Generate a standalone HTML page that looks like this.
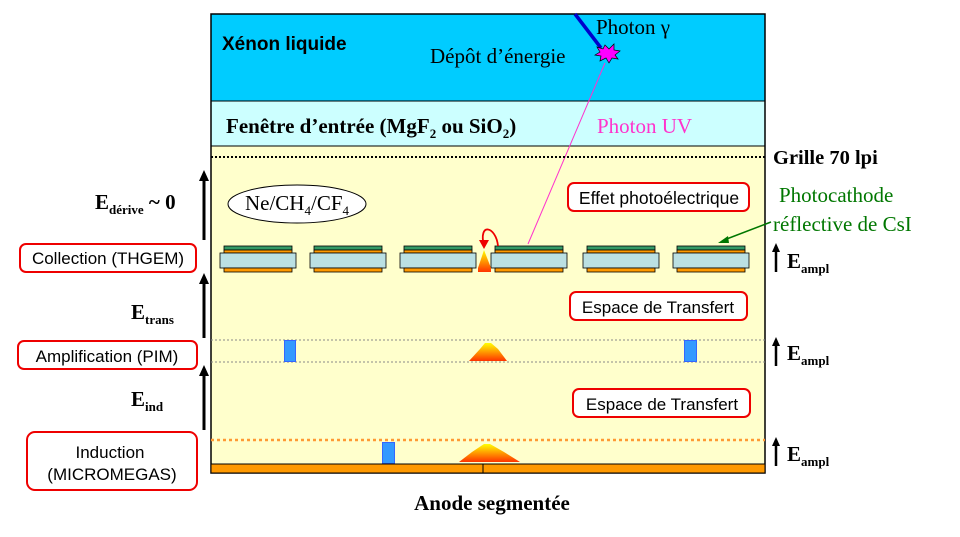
<!DOCTYPE html>
<html><head><meta charset="utf-8"><style>
body{margin:0;background:#fff;}
svg{display:block;}
.s{font-family:"Liberation Serif",serif;}
.a{font-family:"Liberation Sans",sans-serif;}
</style></head><body>
<svg width="960" height="537" viewBox="0 0 960 537" xmlns="http://www.w3.org/2000/svg">
<defs>
<linearGradient id="fl" x1="0" y1="0" x2="0" y2="1"><stop offset="0" stop-color="#ffff00"/><stop offset="1" stop-color="#ff3300"/></linearGradient>
</defs>
<rect x="211" y="146" width="554" height="327" fill="#ffffcc"/>
<rect x="211" y="14" width="554" height="87" fill="#00ccff"/>
<rect x="211" y="101" width="554" height="45" fill="#ccffff" stroke="#000" stroke-width="1"/>
<rect x="211" y="14" width="554" height="459" fill="none" stroke="#000" stroke-width="1.5"/>
<text x="222" y="50" class="a" font-size="19" font-weight="bold">Xénon liquide</text>
<text x="430" y="63" class="s" font-size="21">Dépôt d’énergie</text>
<text x="596" y="34" class="s" font-size="21">Photon γ</text>
<line x1="575" y1="14" x2="601" y2="48" stroke="#0000cc" stroke-width="3.5"/>
<polygon points="605,45 609,49 614,44 614,50 620,51 615,55 618,59 612,58 609,63 606,58 600,61 601,56 595,55 600,52 597,47 603,49" fill="#ff00ff" stroke="#000" stroke-width="0.7"/>
<text x="226" y="133" class="s" font-size="21" font-weight="bold">Fenêtre d’entrée (MgF<tspan font-size="13" dy="5">2</tspan><tspan dy="-5"> ou SiO</tspan><tspan font-size="13" dy="5">2</tspan><tspan dy="-5">)</tspan></text>
<text x="597" y="133" class="s" font-size="21" fill="#ff33cc">Photon UV</text>
<line x1="605" y1="63" x2="528" y2="244" stroke="#ff33cc" stroke-width="1"/>
<line x1="211" y1="157" x2="765" y2="157" stroke="#000" stroke-width="2" stroke-dasharray="2,2"/>
<text x="773" y="164" class="s" font-size="20.5" font-weight="bold">Grille 70 lpi</text>
<ellipse cx="297" cy="204" rx="69" ry="19" fill="#fff" stroke="#000"/>
<text x="297" y="210" text-anchor="middle" class="s" font-size="21">Ne/CH<tspan font-size="13" dy="5">4</tspan><tspan dy="-5">/CF</tspan><tspan font-size="13" dy="5">4</tspan></text>
<rect x="568" y="183" width="181" height="28" rx="6" fill="#fff" stroke="#e00" stroke-width="2"/>
<text x="659" y="204" text-anchor="middle" class="a" font-size="17.5">Effet photoélectrique</text>
<text x="779" y="202" class="s" font-size="21" fill="#007700">Photocathode</text>
<text x="773" y="231" class="s" font-size="21" fill="#007700">réflective de CsI</text>
<line x1="771" y1="222" x2="724" y2="240" stroke="#007700" stroke-width="1.5"/>
<polygon points="718,243 728,236 729,243" fill="#007700"/>
<g id="plates"></g>
<polygon points="484,250 478,268 478,272 491,272 491,268" fill="url(#fl)"/>
<path d="M498,246 C496,226 478,222 484,246" fill="none" stroke="#e00" stroke-width="1.8"/>
<polygon points="479,240 484,249 489,240" fill="#e00"/>
<rect x="20" y="244" width="176" height="28" rx="6" fill="#fff" stroke="#e00" stroke-width="2"/>
<text x="108" y="264" text-anchor="middle" class="a" font-size="17">Collection  (THGEM)</text>
<rect x="570" y="292" width="177" height="28" rx="6" fill="#fff" stroke="#e00" stroke-width="2"/>
<text x="658" y="313" text-anchor="middle" class="a" font-size="17">Espace de Transfert</text>
<line x1="211" y1="340" x2="765" y2="340" stroke="#888" stroke-dasharray="2,2"/>
<line x1="211" y1="362" x2="765" y2="362" stroke="#888" stroke-dasharray="2,2"/>
<rect x="284.5" y="340.5" width="11" height="21" fill="#3399ff" stroke="#3366ff"/>
<rect x="684.5" y="340.5" width="12" height="21" fill="#3399ff" stroke="#3366ff"/>
<path d="M469,361 L480,349 L485,343 L491,343 L498,349 L507,361 Z" fill="url(#fl)"/>
<rect x="18" y="341" width="179" height="28" rx="6" fill="#fff" stroke="#e00" stroke-width="2"/>
<text x="107" y="362" text-anchor="middle" class="a" font-size="17">Amplification (PIM)</text>
<rect x="573" y="389" width="177" height="28" rx="6" fill="#fff" stroke="#e00" stroke-width="2"/>
<text x="662" y="410" text-anchor="middle" class="a" font-size="17">Espace de Transfert</text>
<line x1="211" y1="440" x2="765" y2="440" stroke="#ff9933" stroke-width="2.5" stroke-dasharray="3,3"/>
<rect x="382.5" y="442.5" width="12" height="21" fill="#3399ff" stroke="#3366ff"/>
<path d="M459,462 L472,452 L484,444 L490,444 L504,452 L520,462 Z" fill="url(#fl)"/>
<rect x="211" y="464" width="554" height="9" fill="#ff9900" stroke="#000"/>
<line x1="483" y1="464" x2="483" y2="473" stroke="#000"/>
<rect x="27" y="432" width="170" height="58" rx="8" fill="#fff" stroke="#e00" stroke-width="2"/>
<text x="110" y="458" text-anchor="middle" class="a" font-size="17">Induction</text>
<text x="112" y="480" text-anchor="middle" class="a" font-size="17">(MICROMEGAS)</text>
<text x="492" y="510" text-anchor="middle" class="s" font-size="21" font-weight="bold">Anode segmentée</text>
<g>
<line x1="204" y1="240" x2="204" y2="180" stroke="#000" stroke-width="3"/><polygon points="199,181 204,170 209,181"/>
<line x1="204" y1="338" x2="204" y2="283" stroke="#000" stroke-width="3"/><polygon points="199,284 204,273 209,284"/>
<line x1="204" y1="430" x2="204" y2="375" stroke="#000" stroke-width="3"/><polygon points="199,376 204,365 209,376"/>
</g>
<text x="95" y="209" class="s" font-size="21" font-weight="bold">E<tspan font-size="13" dy="5">dérive</tspan><tspan dy="-5"> ~ 0</tspan></text>
<text x="131" y="319" class="s" font-size="21" font-weight="bold">E<tspan font-size="13" dy="5">trans</tspan></text>
<text x="131" y="406" class="s" font-size="21" font-weight="bold">E<tspan font-size="13" dy="5">ind</tspan></text>
<g>
<line x1="776" y1="272" x2="776" y2="250" stroke="#000" stroke-width="2.5"/><polygon points="772,252 776,243 780,252"/>
<line x1="776" y1="366" x2="776" y2="344" stroke="#000" stroke-width="2.5"/><polygon points="772,346 776,337 780,346"/>
<line x1="776" y1="466" x2="776" y2="444" stroke="#000" stroke-width="2.5"/><polygon points="772,446 776,437 780,446"/>
</g>
<text x="787" y="268" class="s" font-size="21" font-weight="bold">E<tspan font-size="13" dy="5">ampl</tspan></text>
<text x="787" y="360" class="s" font-size="21" font-weight="bold">E<tspan font-size="13" dy="5">ampl</tspan></text>
<text x="787" y="461" class="s" font-size="21" font-weight="bold">E<tspan font-size="13" dy="5">ampl</tspan></text>
</svg>
<script>
const plateLefts=[220,310,400,491,583,673];
const g=document.getElementById('plates');
const NS='http://www.w3.org/2000/svg';
function r(x,y,w,h,f){const e=document.createElementNS(NS,'rect');e.setAttribute('x',x);e.setAttribute('y',y);e.setAttribute('width',w);e.setAttribute('height',h);e.setAttribute('fill',f);e.setAttribute('stroke','#000');e.setAttribute('stroke-width','0.8');g.appendChild(e);return e;}
plateLefts.forEach(x=>{
 const a=r(x+4,246,68,4,'#339966');
 
 
 r(x+4,250,68,3,'#ff9900');
 const b=r(x,253,76,15,'#bbe0e3');
 
 
 r(x+4,268,68,4,'#ff9900');
});
</script>
</body></html>
